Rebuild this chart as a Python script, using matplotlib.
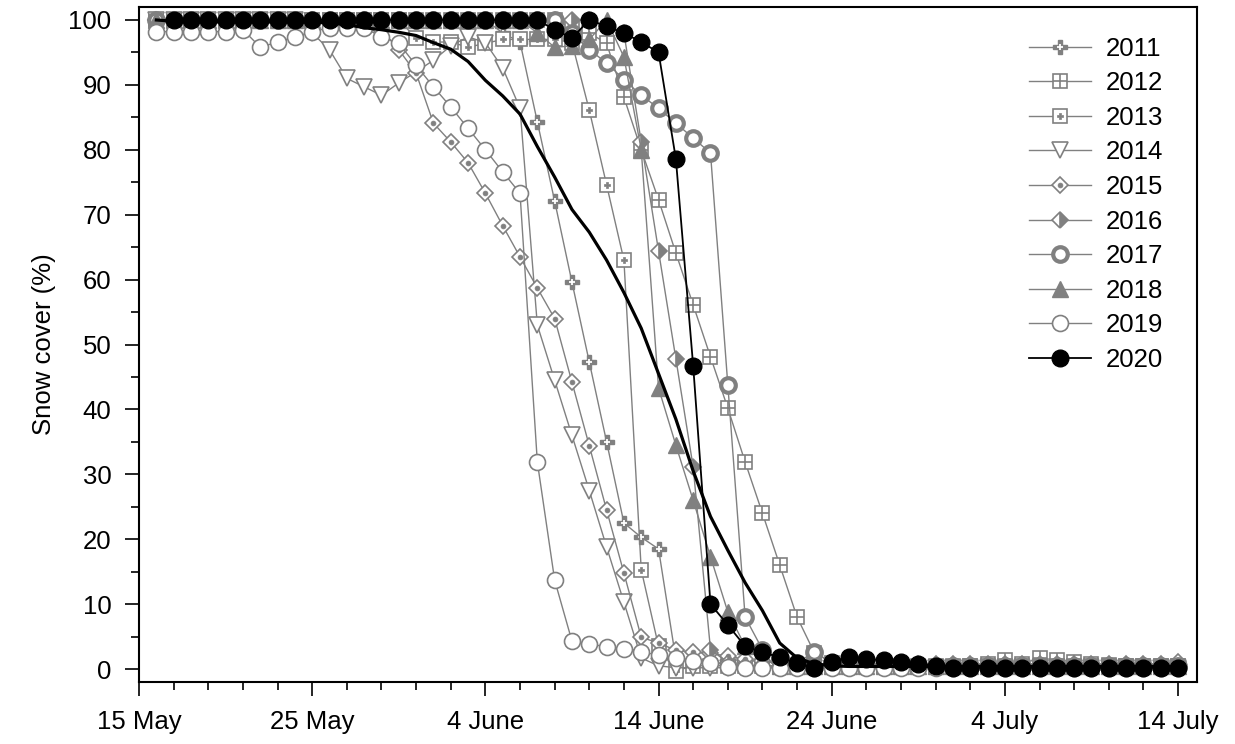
import numpy as np
import matplotlib
matplotlib.use('Agg')
import matplotlib.pyplot as plt
from matplotlib.ticker import MultipleLocator

plt.rcParams['font.family'] = ['Liberation Sans', 'DejaVu Sans']

# day 0 = 15 May, one value per day from 16 May (day 1) to 14 July (day 60)
days = np.arange(1, 61)
nan = np.nan

s2011 = [100] * 20 + [98, 96.6, 84.3, 72.1, 59.6, 47.3, 35, 22.5, 20.3, 18.5] \
    + [1.5, 1.2, 1, 0.8, 0.6] + [0.5] * 25
s2012 = [100] * 24 + [98.8, 98, 96.4, 88.1, 80, 72.3, 64.1, 56.1, 48.1, 40.2,
                      31.9, 24, 16, 8, 2.5] \
    + [1, 0.8, 0.6, 0.5, 0.5, 0.3, 0.3, 0.3, 0.5, 0.8, 1.4, 0.8, 1.7, 1.4,
       1.1, 0.8, 0.6, 0.5, 0.5, 0.5, 0.5]
s2013 = [100] * 15 + [97.2, 96.6, 96.6, 95.8, 96.4, 97, 97, 97, 97, 96.5,
                      86.1, 74.6, 63, 15.3, 3.5, -0.3, 0.5] + [0.5] * 28
s2014 = [100] * 9 + [98, 95.4, 91, 89.7, 88.4, 90.3, 92, 93.8, 96, 97.4, 96.5,
                     92.6, 86.4, 53, 44.5, 36, 27.5, 18.8, 10.3, 1.7, 0.5] + [0.2] * 30
s2015 = [100] * 13 + [98.5, 95.4, 91.8, 84.1, 81.2, 78, 73.3, 68.3, 63.5, 58.7,
                      54, 44.2, 34.4, 24.5, 14.8, 4.9, 4, 2.9, 2.6, 2.4, 2, 1.5,
                      1.2, 1] + [0.8] * 22 + [1.1]
s2016 = [100] * 26 + [99, 98, 81.2, 64.4, 47.8, 31.1, 3, 1] + [0.5] * 26
s2017 = [100] * 23 + [100, 98, 95.4, 93.4, 90.8, 88.4, 86.4, 84.1, 81.8, 79.5,
                      43.8, 8, 3, 1.5, 1, 2.6, 1] + [0.5] * 20
s2018 = [100] * 22 + [98, 95.8, 96, 97, 100, 94.3, 80, 43.3, 34.5, 26, 17.3,
                      8.8, 3.5, 1.5] + [0.5] * 24
s2019 = [98.2] * 5 + [98.5, 95.8, 96.6, 97.4, 98.2, 98.8, 98.8, 98.8, 97.4, 96.4,
                      93, 89.7, 86.6, 83.3, 80, 76.6, 73.3, 31.9, 13.7, 4.3, 3.9,
                      3.4, 3.1, 2.6, 2.2, 1.7, 1.2, 0.9, 0.3] + [0.2] * 26
s2020 = [nan] + [100] * 22 + [98.5, 97.2, 100, 99, 98, 96.6, 95, 78.6, 46.7, 10,
                              6.8, 3.5, 2.6, 1.8, 0.9, 0.2, 1.1, 1.9, 1.5, 1.4,
                              1.1, 0.8, 0.5] + [0.2] * 14
mean_curve = [100, 99.8] + [99.7] * 8 + [99.5, 99.3, 98.8, 98.5, 98.1, 97.6, 96.5,
                                          95.5, 93.6, 90.7, 88.3, 85.5, 80.5, 75.8,
                                          70.8, 67.3, 63, 58, 52.5, 45.5, 38.5,
                                          30.5, 23.5, 18.3, 13.3, 9, 4, 1.7,
                                          0.8, 0.5] + [0.4] * 20

tick_days = [0, 10, 20, 30, 40, 50, 60]
tick_labels = ['15 May', '25 May', '4 June', '14 June', '24 June', '4 July', '14 July']

grey = '#808080'

fig = plt.figure(figsize=(12.35, 7.44), dpi=100)
ax = fig.add_axes([0.1126, 0.0833, 0.8567, 0.9073])

handles = []
labels = []

def add(y, label, base, extra=None, z=2):
    ln, = ax.plot(days, y, color=grey, lw=1.0, zorder=z, **base)
    h = ln
    if extra is not None:
        ov, = ax.plot(days, y, ls='none', zorder=z + 0.01, **extra)
        h = (ln, ov)
    handles.append(h)
    labels.append(label)

add(s2011, '2011', dict(marker='P', ms=10.5, mfc=grey, mec=grey, mew=1),
    dict(marker='+', ms=4.5, mec='white', mew=1.3), z=2.0)
add(s2012, '2012', dict(marker='s', ms=10.5, mfc='white', mec=grey, mew=1.2),
    dict(marker='+', ms=10.5, mec=grey, mew=1.2), z=2.1)
add(s2013, '2013', dict(marker='s', ms=10.5, mfc='white', mec=grey, mew=1.2),
    dict(marker='P', ms=5, mfc=grey, mec=grey, mew=0.5), z=2.2)
add(s2014, '2014', dict(marker='v', ms=11.5, mfc='white', mec=grey, mew=1.2), z=2.3)
add(s2015, '2015', dict(marker='D', ms=8.5, mfc='white', mec=grey, mew=1.2),
    dict(marker='o', ms=3.5, mfc=grey, mec=grey, mew=0.5), z=2.4)
add(s2016, '2016', dict(marker='D', ms=8.5, fillstyle='right', mfc=grey,
                        markerfacecoloralt='white', mec=grey, mew=1.2), z=2.5)
add(s2017, '2017', dict(marker='o', ms=10.5, mfc='white', mec=grey, mew=3), z=2.6)
add(s2018, '2018', dict(marker='^', ms=11.5, mfc=grey, mec=grey, mew=1), z=2.7)
add(s2019, '2019', dict(marker='o', ms=11.5, mfc='white', mec=grey, mew=1.2), z=2.8)

ax.plot(days, mean_curve, color='black', lw=2.3, zorder=3)

l20, = ax.plot(days, s2020, color='black', lw=1.3, marker='o', ms=12,
               mfc='black', mec='black', zorder=4)
handles.append(l20)
labels.append('2020')

ax.set_xlim(0, 61.1)
ax.set_ylim(-2, 102)
ax.set_xticks(tick_days)
ax.set_xticklabels(tick_labels)
ax.xaxis.set_minor_locator(MultipleLocator(2))
ax.yaxis.set_major_locator(MultipleLocator(10))
ax.yaxis.set_minor_locator(MultipleLocator(5))
ax.tick_params(which='major', direction='out', length=10, width=1.2,
               labelsize=18.5, pad=10, top=False, right=False)
ax.tick_params(which='minor', direction='out', length=5.5, width=1.2,
               top=False, right=False)
for sp in ax.spines.values():
    sp.set_linewidth(1.5)

ax.set_ylabel('Snow cover (%)', fontsize=18.5, labelpad=9)

ax.legend(handles, labels, loc='upper right', bbox_to_anchor=(0.99, 0.99),
          frameon=False, fontsize=18.5, handlelength=2.4, handletextpad=0.6,
          labelspacing=0.41, numpoints=1)

fig.savefig('out.png', dpi=100)
